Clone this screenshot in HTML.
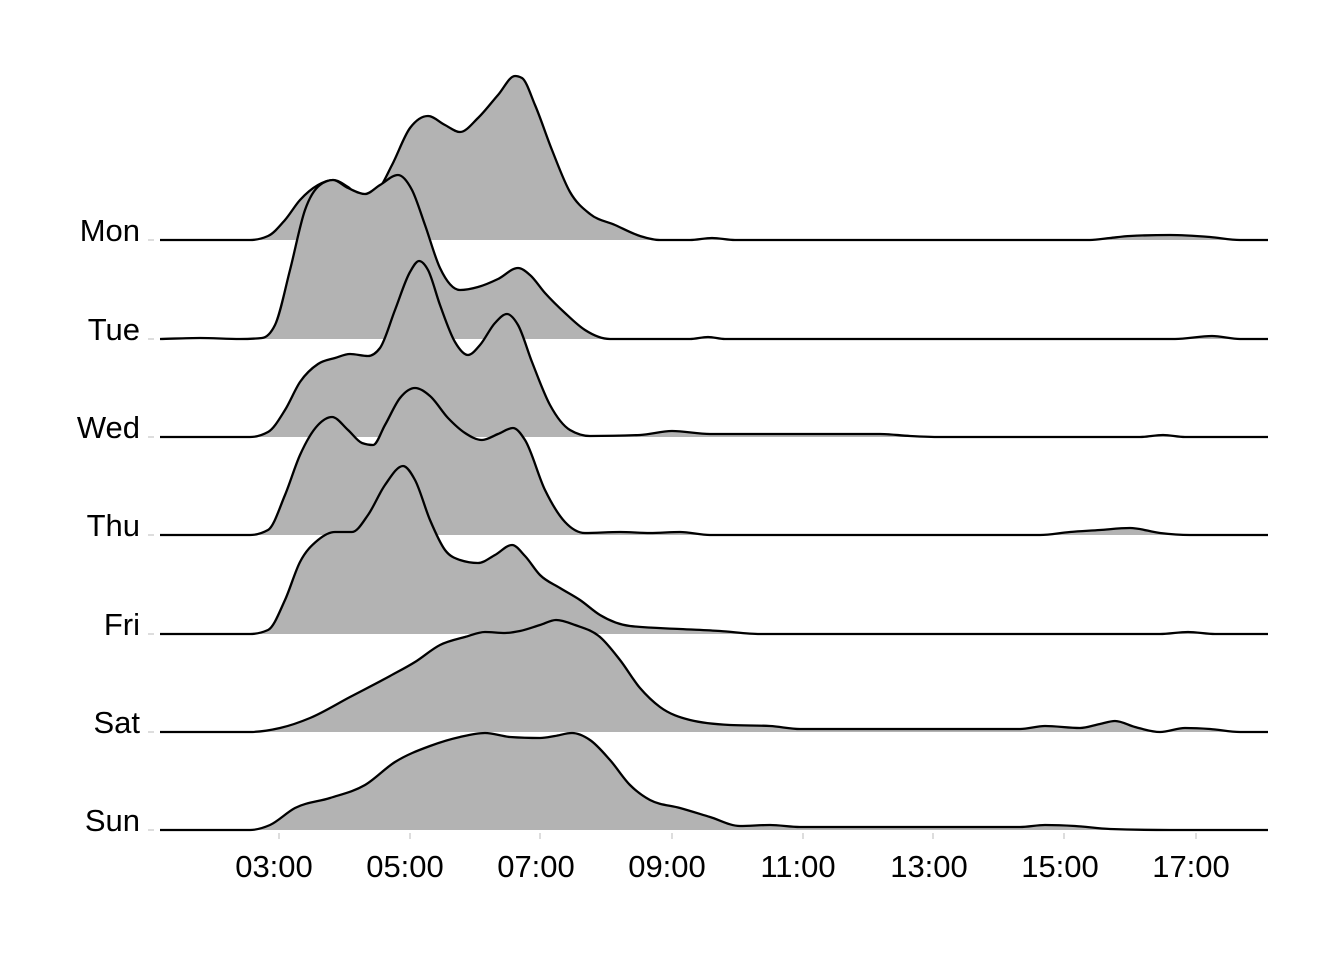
<!DOCTYPE html>
<html><head><meta charset="utf-8"><style>
body{margin:0;background:#fff}
svg{display:block}
text{font-family:"Liberation Sans",Arial,sans-serif;font-size:31px;fill:#000}
</style></head><body>
<svg id="s" width="1344" height="960" viewBox="0 0 1344 960" xmlns="http://www.w3.org/2000/svg">
<g id="ridges"></g>
<g stroke="#ddd" stroke-width="2">
<line x1="279" y1="833" x2="279" y2="839"/><line x1="410" y1="833" x2="410" y2="839"/><line x1="540" y1="833" x2="540" y2="839"/><line x1="672" y1="833" x2="672" y2="839"/><line x1="803" y1="833" x2="803" y2="839"/><line x1="933" y1="833" x2="933" y2="839"/><line x1="1064" y1="833" x2="1064" y2="839"/><line x1="1196" y1="833" x2="1196" y2="839"/>
<line x1="148" y1="240" x2="154" y2="240"/><line x1="148" y1="339" x2="154" y2="339"/><line x1="148" y1="437" x2="154" y2="437"/><line x1="148" y1="535" x2="154" y2="535"/><line x1="148" y1="634" x2="154" y2="634"/><line x1="148" y1="732" x2="154" y2="732"/><line x1="148" y1="830" x2="154" y2="830"/>
</g>
<g text-anchor="end">
<text x="140" y="241">Mon</text><text x="140" y="340">Tue</text><text x="140" y="438">Wed</text><text x="140" y="536">Thu</text><text x="140" y="635">Fri</text><text x="140" y="733">Sat</text><text x="140" y="831">Sun</text>
</g>
<g text-anchor="middle">
<text x="274" y="877">03:00</text><text x="405" y="877">05:00</text><text x="536" y="877">07:00</text><text x="667" y="877">09:00</text><text x="798" y="877">11:00</text><text x="929" y="877">13:00</text><text x="1060" y="877">15:00</text><text x="1191" y="877">17:00</text>
</g>
</svg>
<script>
var D=[
[240,[[160,240],[250,240],[268,236],[285,220],[300,200],[318,185],[333,180],[348,187],[362,198],[378,190],[392,165],[410,128],[428,116],[445,125],[460,132],[478,118],[498,95],[515,76],[522,78],[535,105],[552,150],[570,192],[590,214],[615,225],[640,236],[660,240],[690,240],[712,238],[735,240],[1090,240],[1110,238],[1130,236],[1170,235],[1210,237],[1240,240],[1268,240]]],
[339,[[160,339],[200,338],[240,339],[262,338],[275,325],[290,270],[305,210],[320,185],[333,180],[348,188],[365,194],[380,185],[398,175],[412,190],[425,225],[440,268],[460,290],[478,287],[498,279],[518,268],[530,275],[545,293],[565,313],[585,330],[610,339],[650,339],[690,339],[708,337],[725,339],[1175,339],[1212,336],[1240,339],[1268,339]]],
[437,[[160,437],[250,437],[268,432],[285,410],[300,382],[318,364],[335,358],[350,354],[368,356],[380,348],[395,310],[410,272],[419,261],[428,270],[440,305],[455,342],[468,355],[480,345],[495,323],[507,314],[518,325],[532,362],[550,405],[570,430],[590,436],[640,435],[672,431],[710,434],[880,434],[910,436],[940,437],[1140,437],[1163,435],[1185,437],[1268,437]]],
[535,[[160,535],[250,535],[268,530],[285,495],[300,455],[318,425],[332,417],[348,430],[362,443],[373,445],[385,425],[400,398],[415,388],[430,396],[448,418],[465,433],[482,440],[498,434],[513,428],[525,440],[545,490],[565,522],[585,533],[620,532],[650,533],[680,532],[710,535],[1040,535],[1070,532],[1100,530],[1130,528],[1160,533],[1190,535],[1268,535]]],
[634,[[160,634],[250,634],[268,630],[285,600],[300,562],[318,540],[335,532],[352,532],[368,515],[385,485],[403,466],[415,480],[430,520],[445,550],[460,560],[478,563],[495,555],[512,545],[525,556],[540,575],[560,588],[580,600],[600,615],[630,626],[680,629],[720,631],[760,634],[1160,634],[1188,632],[1215,634],[1268,634]]],
[732,[[160,732],[250,732],[280,728],[310,718],[350,697],[390,676],[415,662],[440,645],[465,637],[485,632],[505,633],[520,631],[540,625],[556,620],[575,625],[600,637],[620,660],[640,688],[660,707],[690,720],[730,725],[770,726],[800,729],[1020,729],[1045,726],[1080,728],[1100,724],[1115,721],[1135,727],[1160,732],[1185,728],[1210,729],[1240,732],[1268,732]]],
[830,[[160,830],[250,830],[270,825],[295,808],[330,798],[365,785],[395,762],[430,746],[460,737],[485,733],[510,737],[540,738],[555,736],[572,733],[590,740],[610,760],[630,785],[650,800],[680,808],[710,817],[740,826],[770,825],[800,827],[1020,827],[1045,825],[1075,826],[1110,829],[1170,830],[1268,830]]]
];
function sm(p){var n=p.length,s=[],t=[];
for(var i=0;i<n-1;i++)s.push((p[i+1][1]-p[i][1])/(p[i+1][0]-p[i][0]));
for(var i=0;i<n;i++){if(i==0){t.push(s[0]);continue}if(i==n-1){t.push(s[n-2]);continue}
var a=s[i-1],b=s[i];if(a*b<=0){t.push(0);continue}
var h0=p[i][0]-p[i-1][0],h1=p[i+1][0]-p[i][0];
var v=(a*h1+b*h0)/(h0+h1);var m=2*Math.min(Math.abs(a),Math.abs(b));if(Math.abs(v)>m)v=Math.sign(v)*m;t.push(v);}
var d="M"+p[0][0]+","+p[0][1];
for(var i=0;i<n-1;i++){var h=(p[i+1][0]-p[i][0])/3;
d+=" C"+(p[i][0]+h).toFixed(1)+","+(p[i][1]+t[i]*h).toFixed(1)+" "+(p[i+1][0]-h).toFixed(1)+","+(p[i+1][1]-t[i+1]*h).toFixed(1)+" "+p[i+1][0]+","+p[i+1][1];}
return d;}
var g=document.getElementById("ridges"),h="";
D.forEach(function(r){var d=sm(r[1]);h+='<path d="'+d+' L1268,'+r[0]+' L160,'+r[0]+' Z" fill="#b3b3b3"/><path d="'+d+'" fill="none" stroke="#000" stroke-width="2.3" stroke-linejoin="round"/>';});
g.innerHTML=h;
</script>
</body></html>
